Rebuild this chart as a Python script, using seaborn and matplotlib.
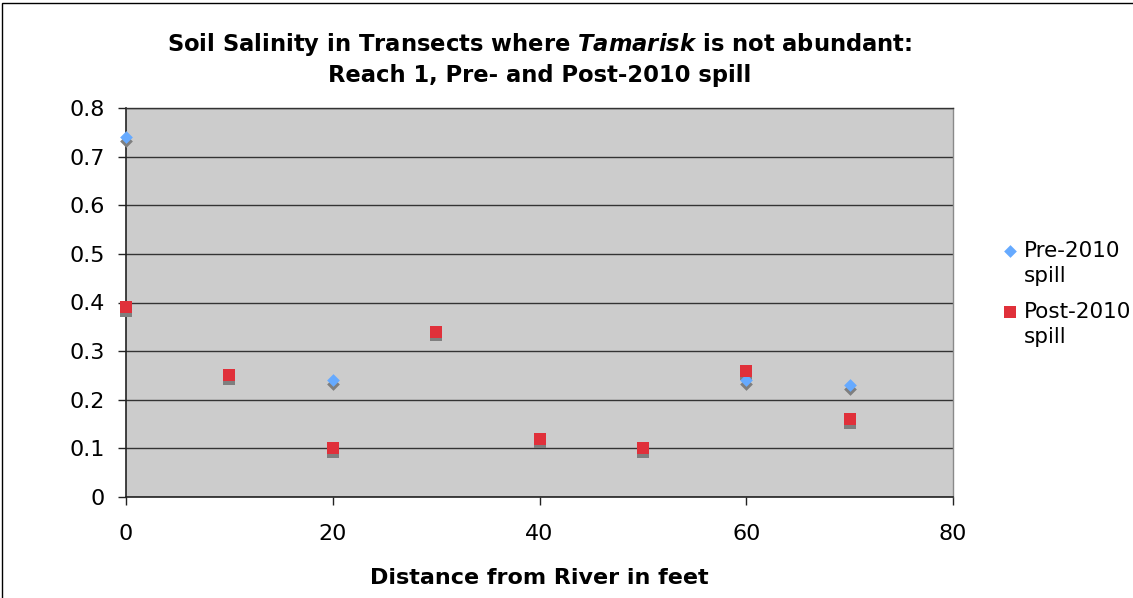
"""
Soil salinity scatter, Reach 1, pre- and post-2010 spill
(Excel-style chart rebuilt with seaborn).
"""

import pandas as pd
import seaborn as sns
import matplotlib.pyplot as plt
from matplotlib.ticker import FuncFormatter
from matplotlib.transforms import ScaledTranslation
from matplotlib.patches import Rectangle

# Values
pre_distance = [0, 20, 60, 70]
pre_salinity = [0.74, 0.24, 0.24, 0.23]
post_distance = [0, 10, 20, 30, 40, 50, 60, 70]
post_salinity = [0.39, 0.25, 0.10, 0.34, 0.12, 0.10, 0.26, 0.16]

PRE_LABEL = 'Pre-2010\nspill'
POST_LABEL = 'Post-2010\nspill'

x_ticks = [0, 20, 40, 60, 80]
y_ticks = [0, 0.1, 0.2, 0.3, 0.4, 0.5, 0.6, 0.7, 0.8]

COLORS = {PRE_LABEL: '#66AAFF', POST_LABEL: '#E0303A'}
MARKERS = {PRE_LABEL: 'D', POST_LABEL: 's'}
SIZES = {PRE_LABEL: 42, POST_LABEL: 78}
SHADOW = '#7F7F7F'

df = pd.concat([
    pd.DataFrame({'distance': pre_distance, 'salinity': pre_salinity, 'series': PRE_LABEL}),
    pd.DataFrame({'distance': post_distance, 'salinity': post_salinity, 'series': POST_LABEL}),
], ignore_index=True)

sns.set_theme(style='ticks')
plt.rcParams['font.family'] = ['DejaVu Sans']
plt.rcParams['text.color'] = 'black'
plt.rcParams['axes.labelcolor'] = 'black'
plt.rcParams['mathtext.fontset'] = 'custom'
plt.rcParams['mathtext.it'] = 'DejaVu Sans:bold:italic'
plt.rcParams['mathtext.rm'] = 'DejaVu Sans:bold'

fig = plt.figure(figsize=(11.33, 5.98), dpi=100)
fig.patch.set_facecolor('white')
ax = fig.add_axes([126 / 1133, 1 - 497 / 598, (953 - 126) / 1133, (497 - 108) / 598])
ax.set_facecolor('#CCCCCC')

# drop shadow: same marker, shifted a few pixels down
shadow_shift = ScaledTranslation(0, -3.5 / 100, fig.dpi_scale_trans)

for label in [PRE_LABEL, POST_LABEL]:
    sub = df[df['series'] == label]
    sns.scatterplot(data=sub, x='distance', y='salinity', marker=MARKERS[label],
                    s=SIZES[label], color=SHADOW, linewidth=0, legend=False,
                    ax=ax, zorder=3, clip_on=False)
    ax.collections[-1].set_offset_transform(ax.transData + shadow_shift)
    sns.scatterplot(data=sub, x='distance', y='salinity', marker=MARKERS[label],
                    s=SIZES[label], color=COLORS[label], linewidth=0, label=label,
                    ax=ax, zorder=4, clip_on=False)

ax.set_xlim(0, 80)
ax.set_ylim(0, 0.8)
ax.set_xticks(x_ticks)
ax.set_yticks(y_ticks)
ax.yaxis.set_major_formatter(FuncFormatter(lambda v, _: f'{v:g}'))

ax.yaxis.grid(True, color='#333333', linewidth=1)
ax.xaxis.grid(False)
ax.set_axisbelow(True)

for side in ['left', 'bottom']:
    ax.spines[side].set_color('#222222')
    ax.spines[side].set_linewidth(1.2)
ax.spines['top'].set_color('#333333')
ax.spines['top'].set_linewidth(1)
ax.spines['right'].set_color('#8A8A8A')
ax.spines['right'].set_linewidth(1)

ax.tick_params(axis='both', direction='out', length=6, width=1, color='#222222',
               labelsize=16, labelcolor='black')
ax.tick_params(axis='x', pad=13.5)
ax.tick_params(axis='y', pad=9)

ax.set_title(r'Soil Salinity in Transects where $\mathit{Tamarisk}$ is not abundant:'
             '\nReach 1, Pre- and Post-2010 spill',
             fontsize=16.3, fontweight='bold', pad=19, linespacing=1.3, color='black')
ax.set_xlabel('Distance from River in feet', fontsize=16, fontweight='bold', labelpad=17)
ax.set_ylabel('')

leg = ax.legend(loc='upper left', bbox_to_anchor=(1001 / 1133, 1 - 241 / 598),
                bbox_transform=fig.transFigure, frameon=False, fontsize=15.5,
                handlelength=0.8, handletextpad=0.25, labelspacing=0.75,
                borderaxespad=0, borderpad=0, scatteryoffsets=[0.5])
for text in leg.get_texts():
    text.set_linespacing(1.3)
# Excel puts the legend marker next to the first line of a two-line label
for handle in leg.legend_handles:
    handle.set_offsets(handle.get_offsets() + [0, 9.5])

# outer chart-area border (only left and top edges are visible in the picture)
fig.patches.append(Rectangle((2 / 1133, -0.1), 1.2, 1.1 - 3 / 598, transform=fig.transFigure,
                             fill=False, edgecolor='black', linewidth=1))

fig.savefig('out.png', dpi=100, facecolor='white')
